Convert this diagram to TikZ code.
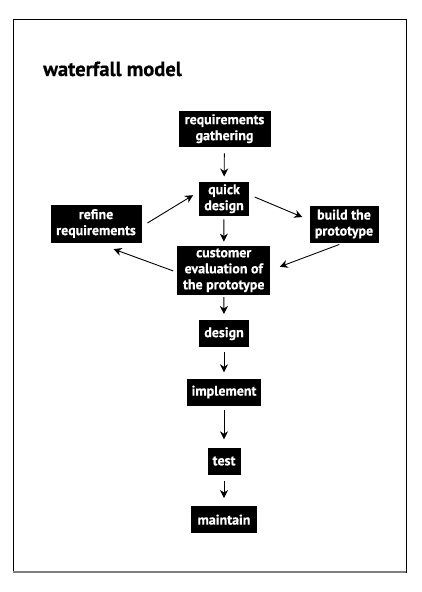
\documentclass[tikz,border=0pt]{standalone}
\usepackage{fontspec}
\setmainfont{PT Sans}
\newfontfamily\boxfont[FakeBold=0.5]{PT Sans}
\usetikzlibrary{arrows.meta}
\begin{document}
\begin{tikzpicture}[x=1pt,y=-1pt,
  stepbox/.style={fill=black,text=white,font=\boxfont\bfseries\fontsize{14}{16}\selectfont,
    align=center,inner sep=0pt,anchor=center},
  arr/.style={-{Stealth[length=8pt,width=8pt,inset=2.5pt]},line width=0.9pt}]
\useasboundingbox (0,0) rectangle (421,592);
\draw[line width=1pt] (13,19) rectangle (406,572);
\draw[gray,line width=1.6pt] (13,572) -- (406,572);
\node[anchor=base west,font=\boxfont\bfseries\fontsize{20.5}{24}\selectfont,inner sep=0pt] (title) at (43,76) {waterfall model};
\node[stepbox,minimum width=92pt,minimum height=36pt] (req) at (224.5,128.7) {requirements\\gathering};
\node[stepbox,minimum width=50pt,minimum height=34pt] (quick) at (224,198.7) {quick\\design};
\node[stepbox,minimum width=91pt,minimum height=38pt] (refine) at (96,223.5) {refine\\requirements};
\node[stepbox,minimum width=69pt,minimum height=37pt] (build) at (344,224) {build the\\prototype};
\node[stepbox,minimum width=93pt,minimum height=49pt] (cust) at (223.7,270.3) {customer\\evaluation of\\the prototype};
\node[stepbox,minimum width=50pt,minimum height=27pt] (design) at (224,333.7) {design};
\node[stepbox,minimum width=74pt,minimum height=27pt] (impl) at (224,392) {implement};
\node[stepbox,minimum width=33pt,minimum height=27pt] (test) at (224,461) {test};
\node[stepbox,minimum width=66pt,minimum height=27pt] (maint) at (224,519.7) {maintain};
\draw[arr,shorten <=6.5pt,shorten >=5pt] (req) -- (quick);
\draw[arr,shorten <=3.5pt,shorten >=4pt] (quick) -- (cust);
\draw[arr,shorten <=6pt,shorten >=7.6pt] ([yshift=4pt]quick.east) -- ([yshift=4pt]build.west);
\draw[arr,shorten <=5pt,shorten >=10pt] (build.south) -- (cust.east);
\draw[arr,shorten <=4pt,shorten >=18.7pt] ([yshift=-2pt]cust.west) -- (refine.south);
\draw[arr,shorten <=6.7pt,shorten >=6.7pt] ([yshift=-3pt]refine.east) -- ([yshift=7pt]quick.west);
\draw[arr,shorten <=2pt,shorten >=6pt] (cust) -- (design);
\draw[arr,shorten <=5pt,shorten >=6pt] (design) -- (impl);
\draw[arr,shorten <=4.5pt,shorten >=8pt] (impl) -- (test);
\draw[arr,shorten <=6pt,shorten >=8pt] (test) -- (maint);
\end{tikzpicture}
\end{document}
